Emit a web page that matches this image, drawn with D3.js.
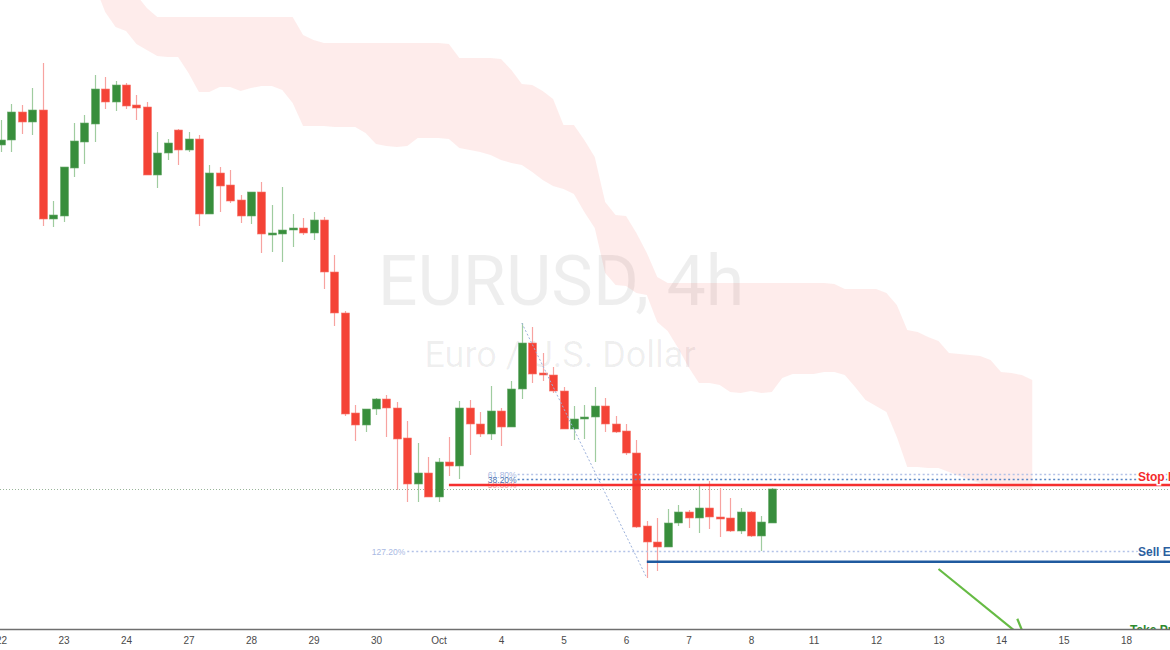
<!DOCTYPE html>
<html><head><meta charset="utf-8">
<script src="https://cdn.jsdelivr.net/npm/d3@7"></script>
<style>html,body{margin:0;padding:0;background:#fff;overflow:hidden}</style>
</head><body>
<svg id="c" width="1170" height="650"></svg>
<script>
// ---- DATA (EURUSD 4h, bar index 0 = Sep 22 00:00) ----
const open = [1.17220,1.17240,1.17352,1.17312,1.17360,1.16924,1.16936,1.17128,1.17232,1.17304,
1.17444,1.17392,1.17460,1.17380,1.17372,1.17100,1.17188,1.17280,1.17200,1.17244,
1.16944,1.17108,1.17060,1.17000,1.16936,1.17032,1.16860,1.16864,1.16880,1.16888,
1.16868,1.16920,1.16712,1.16548,1.16148,1.16100,1.16164,1.16204,1.16168,1.16048,
1.15864,1.15908,1.15812,1.15952,1.15936,1.16168,1.16104,1.16064,1.16156,1.16092,
1.16244,1.16428,1.16308,1.16300,1.16236,1.16084,1.16124,1.16132,1.16176,1.16104,
1.16076,1.15988,1.15696,1.15632,1.15612,1.15708,1.15752,1.15728,1.15768,1.15732,
1.15728,1.15676,1.15752,1.15656,1.15708];
const high = [1.17320,1.17384,1.17380,1.17448,1.17548,1.16996,1.17132,1.17308,1.17340,1.17500,
1.17492,1.17476,1.17468,1.17420,1.17392,1.17272,1.17244,1.17284,1.17272,1.17260,
1.17140,1.17132,1.17120,1.17020,1.17032,1.17072,1.16980,1.17052,1.16944,1.16928,
1.16952,1.16932,1.16780,1.16556,1.16180,1.16164,1.16208,1.16220,1.16192,1.16116,
1.16028,1.15972,1.15968,1.16052,1.16196,1.16200,1.16152,1.16256,1.16168,1.16276,
1.16508,1.16492,1.16388,1.16332,1.16252,1.16176,1.16180,1.16252,1.16208,1.16136,
1.16104,1.16040,1.15716,1.15728,1.15764,1.15780,1.15760,1.15860,1.15876,1.15848,
1.15808,1.15768,1.15756,1.15736,1.15848];
const low = [1.17192,1.17192,1.17264,1.17260,1.16896,1.16892,1.16912,1.17092,1.17144,1.17232,
1.17364,1.17356,1.17364,1.17320,1.17100,1.17048,1.17160,1.17140,1.17192,1.16896,
1.16944,1.16952,1.16988,1.16908,1.16904,1.16788,1.16792,1.16752,1.16812,1.16860,
1.16840,1.16644,1.16496,1.16136,1.16036,1.16072,1.16140,1.16052,1.15840,1.15792,
1.15792,1.15812,1.15792,1.15896,1.15884,1.15980,1.16052,1.16040,1.16016,1.16092,
1.16204,1.16268,1.16276,1.16228,1.16084,1.16040,1.16044,1.15952,1.16072,1.16068,
1.15980,1.15688,1.15488,1.15516,1.15612,1.15696,1.15688,1.15668,1.15684,1.15652,
1.15672,1.15664,1.15652,1.15596,1.15708];
const close = [1.17240,1.17352,1.17312,1.17360,1.16924,1.16940,1.17132,1.17236,1.17308,1.17444,
1.17392,1.17460,1.17376,1.17368,1.17100,1.17188,1.17228,1.17200,1.17244,1.16944,
1.17108,1.17056,1.16996,1.16936,1.17032,1.16864,1.16868,1.16880,1.16888,1.16868,
1.16920,1.16712,1.16548,1.16144,1.16100,1.16164,1.16204,1.16168,1.16044,1.15864,
1.15908,1.15812,1.15952,1.15936,1.16168,1.16104,1.16064,1.16156,1.16092,1.16244,
1.16428,1.16304,1.16300,1.16236,1.16084,1.16124,1.16132,1.16176,1.16104,1.16072,
1.15988,1.15692,1.15632,1.15612,1.15708,1.15752,1.15728,1.15768,1.15732,1.15724,
1.15676,1.15752,1.15656,1.15712,1.15844];

// Ichimoku cloud (bar index starts at cloudStart)
const cloudStart = 9;
const cloudTop = [1.18040,1.18000,1.17960,1.17900,1.17820,1.17768,1.17732,1.17732,1.17732,1.17732,
1.17732,1.17732,1.17732,1.17732,1.17732,1.17732,1.17732,1.17732,1.17732,1.17732,
1.17660,1.17640,1.17628,1.17628,1.17628,1.17628,1.17628,1.17628,1.17628,1.17628,
1.17628,1.17628,1.17628,1.17628,1.17624,1.17568,1.17568,1.17568,1.17568,1.17564,
1.17520,1.17464,1.17460,1.17436,1.17404,1.17300,1.17300,1.17240,1.17172,1.16992,
1.16940,1.16936,1.16868,1.16788,1.16692,1.16668,1.16668,1.16668,1.16668,1.16668,
1.16668,1.16668,1.16668,1.16668,1.16668,1.16668,1.16668,1.16668,1.16668,1.16668,
1.16668,1.16664,1.16644,1.16644,1.16644,1.16644,1.16628,1.16580,1.16480,1.16472,
1.16452,1.16436,1.16388,1.16384,1.16380,1.16376,1.16360,1.16312,1.16308,1.16300,
1.16280];
const cloudBottom = [1.17860,1.17752,1.17692,1.17676,1.17624,1.17600,1.17576,1.17572,1.17572,1.17508,
1.17432,1.17432,1.17452,1.17452,1.17436,1.17448,1.17456,1.17456,1.17440,1.17388,
1.17296,1.17296,1.17296,1.17292,1.17292,1.17292,1.17268,1.17224,1.17216,1.17212,
1.17216,1.17248,1.17248,1.17248,1.17244,1.17208,1.17200,1.17192,1.17180,1.17160,
1.17148,1.17140,1.17112,1.17080,1.17056,1.17044,1.17024,1.16952,1.16888,1.16708,
1.16660,1.16656,1.16628,1.16620,1.16512,1.16476,1.16408,1.16332,1.16268,1.16268,
1.16260,1.16232,1.16228,1.16236,1.16228,1.16232,1.16288,1.16304,1.16304,1.16304,
1.16312,1.16312,1.16300,1.16252,1.16200,1.16176,1.16152,1.16052,1.15932,1.15932,
1.15928,1.15928,1.15912,1.15896,1.15880,1.15868,1.15852,1.15848,1.15844,1.15840,
1.15840];

// x-axis day labels (first 4h bar of each day)
const tickBars = [0,6,12,18,24,30,36,42,48,54,60,66,72,78,84,90,96,102,108];
const tickLabels = ["22","23","24","27","28","29","30","Oct","4","5","6","7","8","11","12","13","14","15","18"];

// Trade levels / drawings
const stopLoss = 1.15860;
const fib618 = 1.15902, fib382 = 1.15882, fib500 = 1.15862, fib1272 = 1.15594;
const fibLabels = ["61.80%","38.20%","50.00%","127.20%"];
const sellEntry = 1.15553;
const fibSwing = [[50, 1.16508],[62, 1.15488]];
const arrowPts = [[90, 1.15524],[98.4, 1.15240]];
const lineLabels = ["Stop Loss","Sell Entry","Take Profit"];
const takeProfit = 1.15280;
const symbolText = "EURUSD, 4h", descText = "Euro / U.S. Dollar";

// ---- CHART ----
const W = 1170, H = 650, plotBottom = 629;
const svg = d3.select("#c");
const x = d3.scaleLinear().domain([0, 112]).range([1, 1 + 112 * 62.5 / 6]);
const y = d3.scaleLinear().domain([1.1780, 1.1520]).range([0, 650]);
const bw = 8;

svg.append("defs").append("clipPath").attr("id","plot")
  .append("rect").attr("x",0).attr("y",0).attr("width",W).attr("height",plotBottom);
const g = svg.append("g").attr("clip-path","url(#plot)");

// watermark
g.append("text").attr("x",561).attr("y",305).attr("text-anchor","middle")
  .attr("font-family","Roboto").attr("font-size",70).attr("fill","rgba(0,0,0,0.065)").text(symbolText);
g.append("text").attr("x",560).attr("y",367).attr("text-anchor","middle")
  .attr("font-family","Roboto").attr("font-size",36).attr("fill","rgba(0,0,0,0.065)").text(descText);

// cloud
const area = d3.area()
  .x((d,i)=>x(cloudStart+i)).y0((d,i)=>y(cloudBottom[i])).y1(d=>y(d));
g.append("path").datum(cloudTop).attr("d",area).attr("fill","rgba(244,67,54,0.1)");

// last price dotted line
g.append("line").attr("x1",0).attr("x2",W).attr("y1",y(close[close.length-1])+0.5).attr("y2",y(close[close.length-1])+0.5)
  .attr("stroke","#9ab59a").attr("stroke-width",1).attr("stroke-dasharray","1,2");

// candles
const bars = d3.range(open.length);
const cg = g.append("g");
cg.selectAll("line.w").data(bars).join("line").attr("class","w")
  .attr("x1",i=>Math.round(x(i))+0.5).attr("x2",i=>Math.round(x(i))+0.5)
  .attr("y1",i=>y(high[i])).attr("y2",i=>y(low[i]))
  .attr("stroke",i=>close[i]>=open[i]?"#9fcc9f":"#f7a3a0").attr("stroke-width",1.2);
cg.selectAll("rect.b").data(bars).join("rect").attr("class","b")
  .attr("x",i=>Math.round(x(i))+0.5-bw/2).attr("width",bw)
  .attr("y",i=>y(Math.max(open[i],close[i])))
  .attr("height",i=>Math.max(1.5, Math.abs(y(open[i])-y(close[i]))))
  .attr("fill",i=>close[i]>=open[i]?"#388e3c":"#f44336")
  .attr("stroke",i=>close[i]>=open[i]?"#6aab6c":"#f7776e").attr("stroke-width",0.6);

// fib diagonal
g.append("line").attr("x1",x(fibSwing[0][0])).attr("y1",y(fibSwing[0][1]))
  .attr("x2",x(fibSwing[1][0])).attr("y2",y(fibSwing[1][1]))
  .attr("stroke","#9db2dc").attr("stroke-width",1).attr("stroke-dasharray","2,2");

// fib level dotted lines
function hline(p, x1, color, w, dash){
  g.append("line").attr("x1",x1).attr("x2",W).attr("y1",y(p)).attr("y2",y(p))
   .attr("stroke",color).attr("stroke-width",w).attr("stroke-dasharray",dash||null);
}
hline(fib618, x(49.6), "#b3c2e8", 1.3, "2,2.5");
hline(fib382, x(49.6), "#5a86c4", 1.3, "2,2.5");
hline(fib1272, x(39), "#b3c2e8", 1.3, "2,2.5");
hline(sellEntry, x(62), "#1f5a9f", 2.4);

// fib labels
const fl = g.append("g").attr("font-family","Liberation Sans").attr("font-size",8.5).attr("text-anchor","end");
fl.append("text").attr("x",x(49.6)-1).attr("y",y(fib500)+3).attr("fill","#f3a0a0").text(fibLabels[2]);
fl.append("text").attr("x",x(49.6)-1).attr("y",y(fib618)+3).attr("fill","#a9b9e3").text(fibLabels[0]);
fl.append("text").attr("x",x(49.6)-1).attr("y",y(fib382)+3).attr("fill","#4f78b4").text(fibLabels[1]);
fl.append("text").attr("x",x(39)-2).attr("y",y(fib1272)+3).attr("fill","#a9b9e3").text(fibLabels[3]);
// stop loss red line (above the hidden label)
hline(stopLoss, x(43), "#f5302f", 2.4);

// green arrow
const ax1 = x(arrowPts[0][0]), ay1 = y(arrowPts[0][1]), ax2 = x(arrowPts[1][0]), ay2 = y(arrowPts[1][1]);
g.append("line").attr("x1",ax1).attr("y1",ay1).attr("x2",ax2).attr("y2",ay2)
  .attr("stroke","#66bb44").attr("stroke-width",2.2);
const ang = Math.atan2(ay1-ay2, ax1-ax2);
[0.5,-0.5].forEach(a=>{
  g.append("line").attr("x1",ax2).attr("y1",ay2)
   .attr("x2",ax2+23*Math.cos(ang+a)).attr("y2",ay2+23*Math.sin(ang+a))
   .attr("stroke","#66bb44").attr("stroke-width",2.2);
});

// right labels
const rl = g.append("g").attr("font-family","Liberation Sans").attr("font-weight","bold").attr("font-size",12)
  .attr("stroke","#fff").attr("stroke-width",3).attr("paint-order","stroke");
rl.append("text").attr("x",1138).attr("y",y(stopLoss)-4).attr("fill","#f42a2a").text(lineLabels[0]);
rl.append("text").attr("x",1138).attr("y",y(fib1272)+4.5).attr("fill","#2c5fa0").text(lineLabels[1]);
rl.append("text").attr("x",1130).attr("y",y(takeProfit)+4).attr("fill","#2e8b2e").text(lineLabels[2]);

// x axis
const axis = d3.axisBottom(x).tickValues(tickBars).tickFormat((d,i)=>tickLabels[i]).tickSize(0).tickPadding(7);
const ag = svg.append("g").attr("transform",`translate(0,${plotBottom+0.5})`).call(axis);
ag.select(".domain").attr("stroke","#6f6f6f").attr("stroke-width",1.3).attr("d",`M0,0H${W}`);
ag.selectAll("text").attr("font-family","Liberation Sans").attr("font-size",10).attr("fill","#4a4a4a");
</script>
</body></html>
